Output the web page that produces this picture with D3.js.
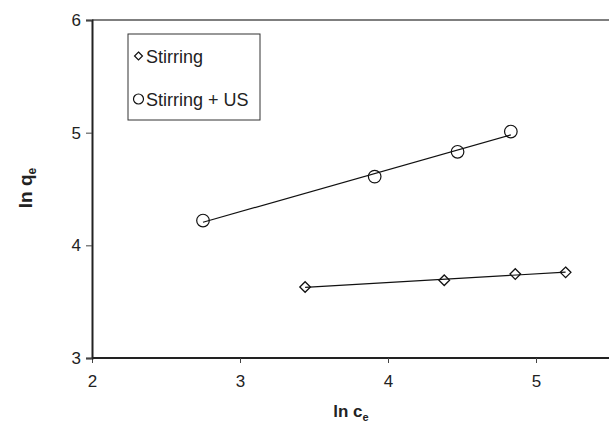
<!DOCTYPE html>
<html>
<head>
<meta charset="utf-8">
<script src="https://cdn.jsdelivr.net/npm/d3@7"></script>
<style>
  body { margin: 0; background: #fff; }
  svg { display: block; font-family: "Liberation Sans", Arial, sans-serif; }
</style>
</head>
<body>
<svg width="609" height="424"></svg>
<script>
// data
const stirX = [3.44, 4.38, 4.86, 5.20];
const stirY = [3.63, 3.69, 3.745, 3.76];
const usX = [2.75, 3.91, 4.47, 4.83];
const usY = [4.22, 4.61, 4.83, 5.01];
const xTicks = [2, 3, 4, 5];
const yTicks = [3, 4, 5, 6];

const svg = d3.select('svg');
const mLeft = 92, mRight = 610, mTop = 20, mBottom = 358;

const x = d3.scaleLinear().domain([2, 5.5]).range([mLeft, mRight]);
const y = d3.scaleLinear().domain([3, 6]).range([mBottom, mTop]);

// frame (top line)
svg.append('line')
  .attr('x1', mLeft).attr('x2', 609)
  .attr('y1', mTop).attr('y2', mTop)
  .attr('stroke', '#555').attr('stroke-width', 1.5);

// axes
const xAxis = svg.append('g')
  .attr('transform', `translate(0,${mBottom})`)
  .call(d3.axisBottom(x).tickValues(xTicks).tickSize(5).tickPadding(12).tickFormat(d3.format('d')));
const yAxis = svg.append('g')
  .attr('transform', `translate(${mLeft},0)`)
  .call(d3.axisLeft(y).tickValues(yTicks).tickSize(6).tickPadding(5).tickFormat(d3.format('d')));

[xAxis, yAxis].forEach(a => {
  a.select('.domain').attr('stroke', '#222').attr('stroke-width', 2);
  a.selectAll('.tick line').attr('stroke', '#444');
  a.selectAll('.tick text').attr('fill', '#222').style('font-size', '17px');
});
xAxis.select('.domain').attr('d', `M${mLeft},0H609`);

// trend lines (least squares through each series)
function fit(xs, ys) {
  const mx = d3.mean(xs), my = d3.mean(ys);
  const b = d3.sum(xs, (v, i) => (v - mx) * (ys[i] - my)) / d3.sum(xs, v => (v - mx) ** 2);
  return v => my + b * (v - mx);
}
[[stirX, stirY], [usX, usY]].forEach(([xs, ys]) => {
  const f = fit(xs, ys);
  const ext = d3.extent(xs);
  svg.append('line')
    .attr('x1', x(ext[0])).attr('y1', y(f(ext[0])))
    .attr('x2', x(ext[1])).attr('y2', y(f(ext[1])))
    .attr('stroke', '#111').attr('stroke-width', 1.2);
});

const diamond = d3.symbol().type(d3.symbolDiamond2).size(72);

// markers
svg.selectAll('.stir')
  .data(stirX.map((v, i) => [v, stirY[i]]))
  .join('path')
  .attr('class', 'stir')
  .attr('d', diamond)
  .attr('transform', d => `translate(${x(d[0])},${y(d[1])})`)
  .attr('fill', 'none').attr('stroke', '#111').attr('stroke-width', 1.3);

svg.selectAll('.us')
  .data(usX.map((v, i) => [v, usY[i]]))
  .join('circle')
  .attr('class', 'us')
  .attr('cx', d => x(d[0])).attr('cy', d => y(d[1]))
  .attr('r', 6.3)
  .attr('fill', 'none').attr('stroke', '#111').attr('stroke-width', 1.2);

// legend
const lg = svg.append('g');
lg.append('rect')
  .attr('x', 128).attr('y', 34).attr('width', 132).attr('height', 86)
  .attr('fill', '#fff').attr('stroke', '#333').attr('stroke-width', 1);
lg.append('path')
  .attr('d', d3.symbol().type(d3.symbolDiamond2).size(40))
  .attr('transform', 'translate(138.5,56)')
  .attr('fill', '#fff').attr('stroke', '#111').attr('stroke-width', 1.2);
lg.append('text').attr('x', 146).attr('y', 63).text('Stirring')
  .style('font-size', '18px').attr('fill', '#222');
lg.append('circle').attr('cx', 138.5).attr('cy', 99).attr('r', 5)
  .attr('fill', '#fff').attr('stroke', '#111').attr('stroke-width', 1.2);
lg.append('text').attr('x', 146).attr('y', 106).text('Stirring + US')
  .style('font-size', '18px').attr('fill', '#222');

// axis titles
const xt = svg.append('text')
  .attr('x', 351).attr('y', 417)
  .attr('text-anchor', 'middle')
  .style('font-size', '17px').style('font-weight', 'bold').attr('fill', '#222');
xt.append('tspan').text('ln c');
xt.append('tspan').text('e').attr('dy', 4).style('font-size', '11px');

const yt = svg.append('text')
  .attr('transform', 'translate(32,188) rotate(-90)')
  .attr('text-anchor', 'middle')
  .style('font-size', '19px').style('font-weight', 'bold').attr('fill', '#222');
yt.append('tspan').text('ln q');
yt.append('tspan').text('e').attr('dy', 4).style('font-size', '12px');
</script>
</body>
</html>
